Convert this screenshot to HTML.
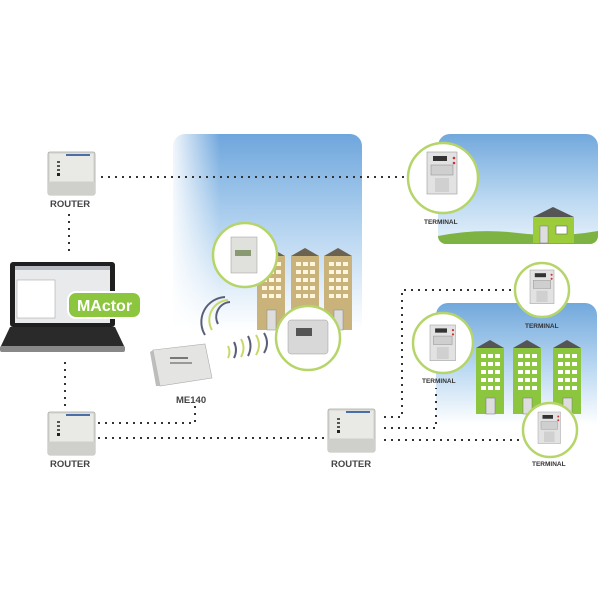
<!DOCTYPE html>
<html><head><meta charset="utf-8"><style>
html,body{margin:0;padding:0;background:#fff;width:600px;height:600px;overflow:hidden}
text{font-family:"Liberation Sans",sans-serif;font-weight:bold}
</style></head><body>
<svg width="600" height="600" viewBox="0 0 600 600" xmlns="http://www.w3.org/2000/svg">
<defs>
<linearGradient id="sky1" x1="0" y1="0" x2="0" y2="1">
<stop offset="0" stop-color="#6ea6dc"/><stop offset="0.45" stop-color="#b0d1ef"/><stop offset="0.85" stop-color="#eaf3fb"/><stop offset="1" stop-color="#ffffff"/></linearGradient>
<linearGradient id="sky2" x1="0" y1="0" x2="0" y2="1">
<stop offset="0" stop-color="#72a8dc"/><stop offset="0.6" stop-color="#bcd9f2"/><stop offset="1" stop-color="#e6f1fa"/></linearGradient>
<linearGradient id="sky3" x1="0" y1="0" x2="0" y2="1">
<stop offset="0" stop-color="#72a8dc"/><stop offset="0.55" stop-color="#bddaf2"/><stop offset="1" stop-color="#ffffff"/></linearGradient>
<linearGradient id="skyL" x1="0" y1="0" x2="1" y2="0">
<stop offset="0" stop-color="#fff" stop-opacity="0.9"/><stop offset="0.25" stop-color="#fff" stop-opacity="0"/></linearGradient>
<g id="router">
<rect x="0" y="0" width="47" height="43" rx="2" fill="#dcdcd8" stroke="#a8a8a4" stroke-width="0.8"/>
<rect x="2" y="2" width="43" height="27" fill="#e9e9e6"/>
<rect x="18" y="2" width="24" height="2" fill="#4a6ea8"/>
<rect x="9" y="9" width="3" height="2" fill="#555"/><rect x="9" y="13" width="3" height="2" fill="#555"/><rect x="9" y="17" width="3" height="2" fill="#555"/><rect x="9" y="21" width="3" height="3" fill="#222"/>
<rect x="0" y="30" width="47" height="13" fill="#cfcfcb"/>
</g>
<g id="meter">
<rect x="0" y="0" width="30" height="42" fill="#e2e2e2" stroke="#999" stroke-width="0.6"/>
<rect x="6" y="4" width="14" height="5" fill="#333"/>
<rect x="4" y="13" width="22" height="10" fill="#cfcfcf" stroke="#888" stroke-width="0.5"/>
<rect x="8" y="26" width="14" height="14" fill="#d0d0d0"/>
<circle cx="27" cy="6" r="1.3" fill="#c33"/><circle cx="27" cy="11" r="1.3" fill="#c33"/>
</g>
<g id="tan">
<polygon points="0,8 14,0 28,8" fill="#6b6250"/>
<rect x="0" y="8" width="28" height="74" fill="#c9b37a"/>
<g fill="#fff6dd">
<rect x="5" y="14" width="5" height="4"/><rect x="12" y="14" width="5" height="4"/><rect x="19" y="14" width="5" height="4"/>
<rect x="5" y="22" width="5" height="4"/><rect x="12" y="22" width="5" height="4"/><rect x="19" y="22" width="5" height="4"/>
<rect x="5" y="30" width="5" height="4"/><rect x="12" y="30" width="5" height="4"/><rect x="19" y="30" width="5" height="4"/>
<rect x="5" y="38" width="5" height="4"/><rect x="12" y="38" width="5" height="4"/><rect x="19" y="38" width="5" height="4"/>
<rect x="5" y="46" width="5" height="4"/><rect x="12" y="46" width="5" height="4"/><rect x="19" y="46" width="5" height="4"/>
</g>
<rect x="10" y="62" width="9" height="20" fill="#ddd" stroke="#888" stroke-width="0.5"/>
</g>
<g id="grn">
<polygon points="0,8 14,0 28,8" fill="#555"/>
<rect x="0" y="8" width="28" height="66" fill="#8cc63f"/>
<g fill="#fff">
<rect x="5" y="14" width="5" height="4"/><rect x="12" y="14" width="5" height="4"/><rect x="19" y="14" width="5" height="4"/>
<rect x="5" y="22" width="5" height="4"/><rect x="12" y="22" width="5" height="4"/><rect x="19" y="22" width="5" height="4"/>
<rect x="5" y="30" width="5" height="4"/><rect x="12" y="30" width="5" height="4"/><rect x="19" y="30" width="5" height="4"/>
<rect x="5" y="38" width="5" height="4"/><rect x="12" y="38" width="5" height="4"/><rect x="19" y="38" width="5" height="4"/>
<rect x="5" y="46" width="5" height="4"/><rect x="12" y="46" width="5" height="4"/><rect x="19" y="46" width="5" height="4"/>
</g>
<rect x="10" y="58" width="9" height="16" fill="#ddd" stroke="#777" stroke-width="0.5"/>
</g>
</defs>

<path d="M173,146 a12,12 0 0 1 12,-12 h165 a12,12 0 0 1 12,12 V330 H173 Z" fill="url(#sky1)"/>
<rect x="173" y="134" width="189" height="196" fill="url(#skyL)"/>
<path d="M438,146 a12,12 0 0 1 12,-12 h136 a12,12 0 0 1 12,12 V236 a8,8 0 0 1 -8,8 H446 a8,8 0 0 1 -8,-8 Z" fill="url(#sky2)"/>
<path d="M438,236 q40,-8 80,-3 t80,-2 V236 a8,8 0 0 1 -8,8 H446 a8,8 0 0 1 -8,-8 Z" fill="#7cb342"/>
<path d="M436,315 a12,12 0 0 1 12,-12 h137 a12,12 0 0 1 12,12 V425 H436 Z" fill="url(#sky3)"/>

<polygon points="533,217 553,207 574,217" fill="#555"/>
<rect x="533" y="217" width="41" height="26" fill="#9ccc3a"/>
<rect x="540" y="226" width="8" height="17" fill="#ddd" stroke="#777" stroke-width="0.5"/>
<rect x="556" y="226" width="11" height="8" fill="#fff" stroke="#666" stroke-width="0.6"/>

<use href="#tan" x="257" y="248"/><use href="#tan" x="291" y="248"/><use href="#tan" x="324" y="248"/>
<use href="#grn" x="476" y="340"/><use href="#grn" x="513" y="340"/><use href="#grn" x="553" y="340"/>

<g stroke="#333" stroke-width="2" stroke-dasharray="2,5" fill="none">
<path d="M101,177 H406"/>
<path d="M69,214 V255"/>
<path d="M65,362 V410"/>
<path d="M98,423 H195 V402"/>
<path d="M98,438 H330"/>
<path d="M384,417 H402 V290 H515"/>
<path d="M384,428 H436 V388"/>
<path d="M384,440 H522"/>
</g>

<g fill="#fff" stroke="#b5d56a" stroke-width="2.5">
<circle cx="245" cy="255" r="32"/>
<circle cx="308" cy="338" r="32"/>
<circle cx="443" cy="178" r="35"/>
<circle cx="542" cy="290" r="27"/>
<circle cx="443" cy="343" r="30"/>
<circle cx="550" cy="430" r="27"/>
</g>
<rect x="231" y="237" width="26" height="36" fill="#e0e0dc" stroke="#999" stroke-width="0.5"/>
<rect x="235" y="250" width="16" height="6" fill="#8a9a70"/>
<rect x="288" y="320" width="40" height="34" rx="3" fill="#d8d8d8" stroke="#999" stroke-width="0.5"/>
<rect x="296" y="328" width="16" height="8" fill="#555"/>
<use href="#meter" x="427" y="152"/>
<use href="#meter" transform="translate(530,270) scale(0.8)"/>
<use href="#meter" transform="translate(430,325) scale(0.85)"/>
<use href="#meter" transform="translate(538,412) scale(0.75)"/>

<g fill="none" stroke-width="2">
<path d="M205,335 a25,25 0 0 1 20,-38" stroke="#5a5f78"/>
<path d="M212,330 a20,20 0 0 1 16,-30" stroke="#c8d86a"/>
<path d="M218,324 a15,15 0 0 1 12,-22" stroke="#5a5f78"/>
<path d="M228,358 q3,-6 0,-12" stroke="#c8d86a"/>
<path d="M234,358 q4,-8 0,-16" stroke="#5a5f78"/>
<path d="M241,357 q5,-9 0,-18" stroke="#c8d86a"/>
<path d="M248,356 q5,-10 0,-20" stroke="#5a5f78"/>
<path d="M256,355 q6,-10 0,-20" stroke="#c8d86a"/>
<path d="M264,353 q6,-10 0,-20" stroke="#5a5f78"/>
</g>

<use href="#router" x="48" y="152"/>
<use href="#router" x="48" y="412"/>
<use href="#router" x="328" y="409"/>

<polygon points="153,350 205,344 212,378 160,386" fill="#e4e4e2" stroke="#aaa" stroke-width="0.6"/>
<polygon points="153,350 160,386 156,386 150,352" fill="#bdbdbb"/>
<rect x="170" y="357" width="18" height="2" fill="#777"/><rect x="170" y="362" width="22" height="2" fill="#999"/>

<rect x="10" y="262" width="105" height="65" rx="3" fill="#1f1f1f"/>
<rect x="15" y="266" width="95" height="57" fill="#e8eaec"/>
<rect x="17" y="280" width="38" height="38" fill="#fff" stroke="#999" stroke-width="0.5"/>
<rect x="15" y="266" width="95" height="4" fill="#b8bcc2"/>
<polygon points="10,327 115,327 125,348 0,348" fill="#2a2a2a"/>
<rect x="0" y="346" width="125" height="6" rx="2" fill="#888"/>
<rect x="68" y="292" width="73" height="26" rx="8" fill="#8cc63f" stroke="#fff" stroke-width="2"/>
<text x="104.5" y="311" font-size="16" fill="#fff" text-anchor="middle">MActor</text>

<g fill="#444" font-size="9.5">
<text x="50" y="207">ROUTER</text>
<text x="50" y="467">ROUTER</text>
<text x="331" y="467">ROUTER</text>
<text x="176" y="403">ME140</text>
</g>
<g fill="#333" font-size="6.5">
<text x="424" y="224">TERMINAL</text>
<text x="525" y="328">TERMINAL</text>
<text x="422" y="383">TERMINAL</text>
<text x="532" y="466">TERMINAL</text>
</g>
</svg>
</body></html>
